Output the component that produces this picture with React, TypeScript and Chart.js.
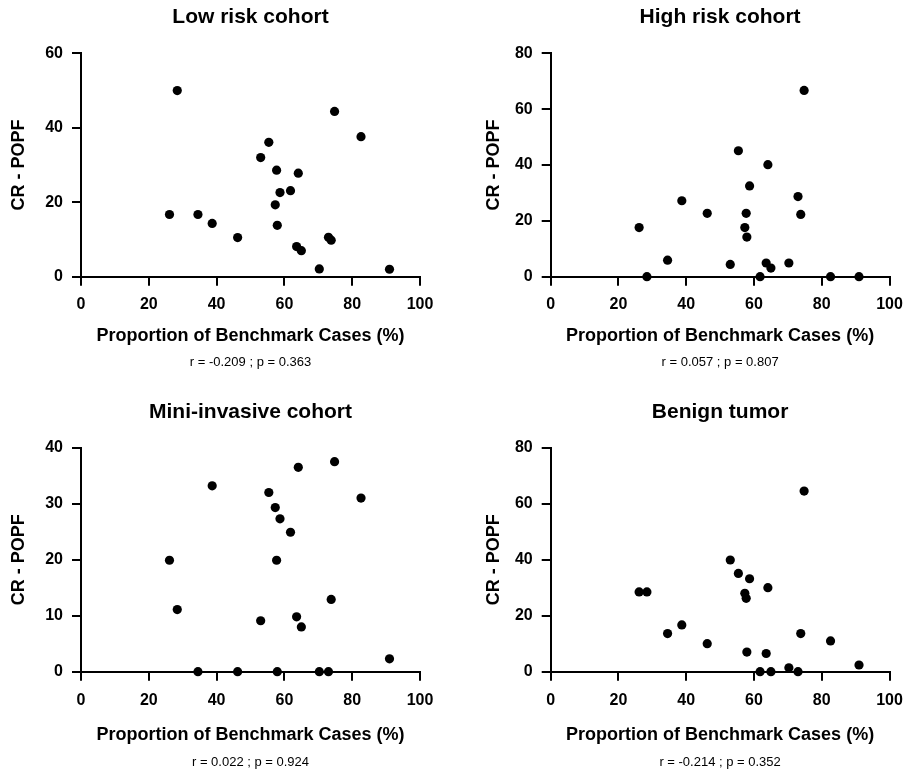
import React, { useEffect, useRef } from "react";
import { Chart, registerables } from "chart.js";

Chart.register(...registerables);

// ---- data ----
const benchmarkPct = [26.1, 28.4, 34.5, 38.7, 46.2, 53.0, 55.4, 57.3, 57.7, 57.9, 58.7, 61.8, 63.6, 64.1, 65.0, 70.3, 73.0, 73.8, 74.8, 82.6, 91.0];

const lowRiskPopf = [16.7, 50.0, 16.7, 14.3, 10.5, 32.0, 36.1, 19.3, 28.6, 13.8, 22.6, 23.1, 8.1, 27.8, 7.0, 2.1, 10.6, 9.8, 44.4, 37.6, 2.0];
const highRiskPopf = [17.6, 0, 5.9, 27.2, 22.7, 4.4, 45.1, 17.6, 22.7, 14.2, 32.5, 0, 4.9, 40.1, 3.1, 4.9, 28.7, 22.3, 66.7, 0, 0];
const miniInvasivePopf = [19.9, 11.1, 0, 33.2, 0, 9.1, 32.0, 29.3, 19.9, 0, 27.3, 24.9, 9.8, 36.5, 8.0, 0, 0, 12.9, 37.5, 31.0, 2.3];
const benignTumorPopf = [28.5, 28.5, 13.6, 16.7, 10.0, 39.9, 35.1, 28.0, 26.2, 7.0, 33.2, 0, 6.5, 30.0, 0, 1.4, 0, 13.6, 64.5, 11.0, 2.4];

const panelTitles = ["Low risk cohort", "High risk cohort", "Mini-invasive cohort", "Benign tumor"];
const statLabels = ["r = -0.209 ; p = 0.363", "r = 0.057 ; p = 0.807", "r = 0.022 ; p = 0.924", "r = -0.214 ; p = 0.352"];
const yMaxValues = [60, 80, 40, 80];
const yStepValues = [20, 20, 10, 20];
const xAxisTitle = "Proportion of Benchmark Cases (%)";
const yAxisTitle = "CR - POPF";
const xMin = 0;
const xMax = 100;
const xStep = 20;

const FONT = "'Liberation Sans', Arial, Helvetica, sans-serif";

type PanelLayout = {
  left: number;
  top: number;
  width: number;
  height: number;
  yAxisWidth: number;
  yTitlePad: number;
  titlePadTop: number;
  titlePadBottom: number;
  rightPad: number;
  xTickPad: number;
  xScaleHeight: number;
  xTitlePadBottom: number;
  statPadTop: number;
  bottomPad: number;
};

const topRow = { top: 0, height: 386, titlePadTop: 4.9, titlePadBottom: 23.2, xTickPad: 9.3, xScaleHeight: 75, xTitlePadBottom: 4.4, statPadTop: 2.8, bottomPad: 15.9 };
const bottomRow = { top: 386, height: 387, titlePadTop: 13.9, titlePadBottom: 22.6, xTickPad: 10.5, xScaleHeight: 75, xTitlePadBottom: 1.2, statPadTop: 7.8, bottomPad: 2.9 };
const leftCol = { left: 0, width: 453, yAxisWidth: 81, yTitlePad: 8.7, rightPad: 33 };
const rightCol = { left: 453, width: 454, yAxisWidth: 97.7, yTitlePad: 30.7, rightPad: 17.5 };

const layouts: PanelLayout[] = [
  { ...topRow, ...leftCol },
  { ...topRow, ...rightCol },
  { ...bottomRow, ...leftCol },
  { ...bottomRow, ...rightCol },
];

const seriesList = [lowRiskPopf, highRiskPopf, miniInvasivePopf, benignTumorPopf];

function Panel({ index }: { index: number }) {
  const ref = useRef<HTMLCanvasElement | null>(null);
  const L = layouts[index];

  useEffect(() => {
    if (!ref.current) return;
    const ys = seriesList[index];
    const points = benchmarkPct.map((x, i) => ({ x, y: ys[i] }));
    const chart = new Chart(ref.current, {
      type: "scatter",
      data: {
        datasets: [
          {
            data: points,
            backgroundColor: "#000",
            borderColor: "#000",
            borderWidth: 0,
            pointRadius: 4.6,
            pointHoverRadius: 4.6,
            clip: false as any,
          } as any,
        ],
      },
      options: {
        animation: false,
        responsive: false,
        layout: { autoPadding: false, padding: { left: 0, right: L.rightPad, top: 0, bottom: L.bottomPad } },
        events: [],
        plugins: {
          legend: { display: false },
          tooltip: { enabled: false },
          title: {
            display: true,
            text: panelTitles[index],
            fullSize: false,
            color: "#000",
            font: { family: FONT, size: 21, weight: "bold" },
            padding: { top: L.titlePadTop, bottom: L.titlePadBottom },
          },
          subtitle: {
            display: true,
            position: "bottom",
            text: statLabels[index],
            fullSize: false,
            color: "#000",
            font: { family: FONT, size: 13, weight: "normal" },
            padding: { top: L.statPadTop, bottom: 0 },
          },
        },
        scales: {
          x: {
            type: "linear",
            min: xMin,
            max: xMax,
            ticks: {
              stepSize: xStep,
              color: "#000",
              font: { family: FONT, size: 16, weight: "bold" },
              padding: L.xTickPad,
              maxRotation: 0,
              autoSkip: false,
            },
            grid: { display: true, drawOnChartArea: false, drawTicks: true, tickLength: 9, color: "#000", lineWidth: 2 },
            border: { display: true, color: "#000", width: 2 },
            title: {
              display: true,
              text: xAxisTitle,
              color: "#000",
              font: { family: FONT, size: 18, weight: "bold" },
              padding: { top: 0, bottom: L.xTitlePadBottom },
            },
            afterFit: (s: any) => {
              s.height = L.xScaleHeight;
              s.paddingLeft = 0;
              s.paddingRight = 0;
            },
          },
          y: {
            type: "linear",
            min: 0,
            max: yMaxValues[index],
            ticks: {
              stepSize: yStepValues[index],
              color: "#000",
              font: { family: FONT, size: 16, weight: "bold" },
              padding: 9,
              autoSkip: false,
            },
            grid: { display: true, drawOnChartArea: false, drawTicks: true, tickLength: 9, color: "#000", lineWidth: 2 },
            border: { display: true, color: "#000", width: 2 },
            title: {
              display: true,
              text: yAxisTitle,
              color: "#000",
              font: { family: FONT, size: 18, weight: "bold" },
              padding: { top: L.yTitlePad, bottom: 0 },
            },
            afterFit: (s: any) => {
              s.width = L.yAxisWidth;
              s.paddingTop = 0;
              s.paddingBottom = 0;
            },
          },
        },
      } as any,
    });
    return () => chart.destroy();
  }, [index]);

  return (
    <div style={{ position: "absolute", left: L.left, top: L.top, width: L.width, height: L.height }}>
      <canvas ref={ref} width={L.width} height={L.height} style={{ width: L.width, height: L.height, display: "block" }} />
    </div>
  );
}

export default function App() {
  return (
    <div style={{ position: "absolute", left: 0, top: 0, width: 907, height: 773, background: "#fff", overflow: "hidden" }}>
      {panelTitles.map((_, i) => (
        <Panel key={i} index={i} />
      ))}
    </div>
  );
}
